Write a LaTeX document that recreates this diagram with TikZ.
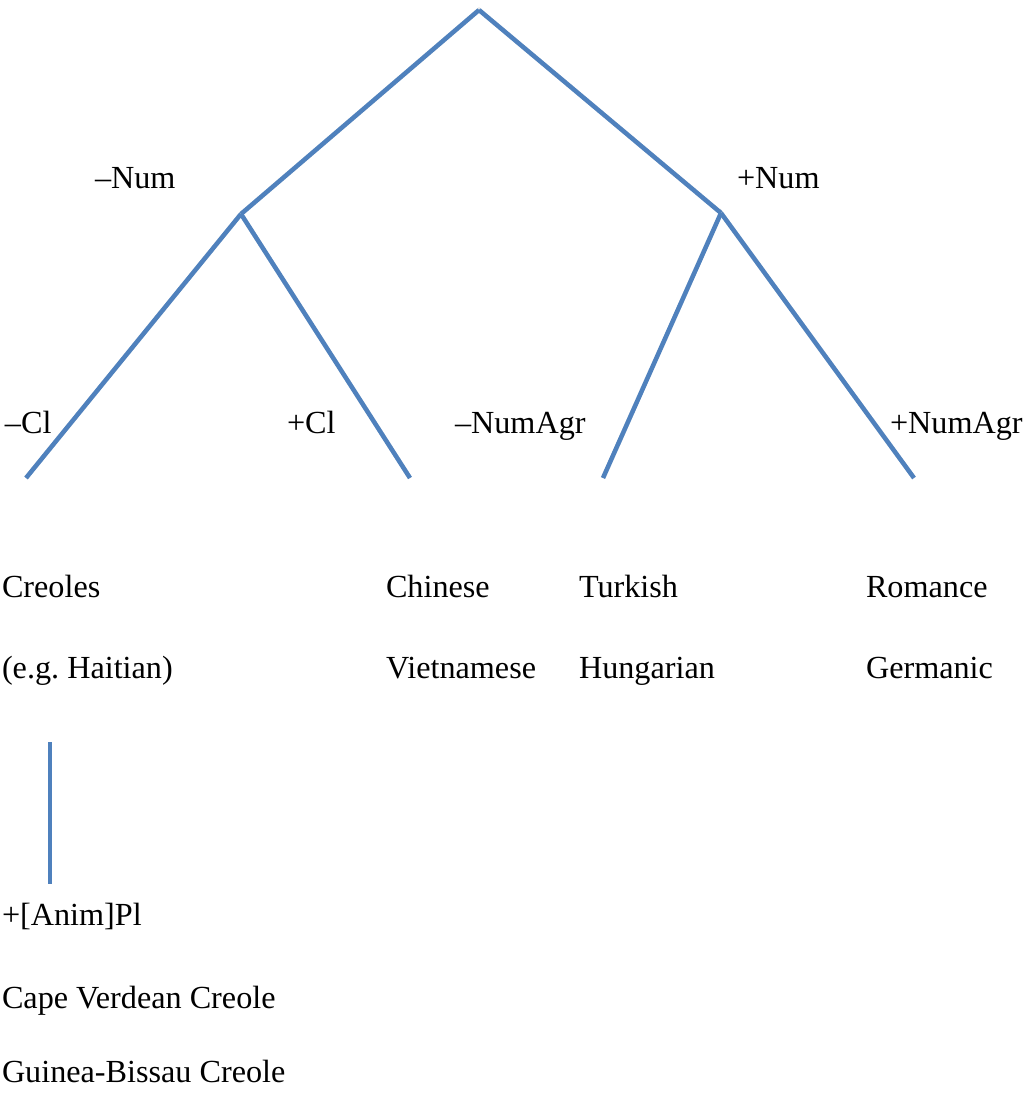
\documentclass[tikz,border=0pt]{standalone}
\usepackage{fontspec}
\setmainfont{Liberation Serif}
\frenchspacing
\definecolor{branch}{HTML}{4F81BD}
\begin{document}
\begin{tikzpicture}[x=1pt,y=-1pt,
  edge/.style={draw=branch,line width=4.5pt},
  shade/.style={draw=black!25,line width=4.5pt,opacity=0.35},
  lbl/.style={anchor=base west,inner sep=0pt,outer sep=0pt,font=\fontsize{32.2}{38}\selectfont}]
\useasboundingbox (0,0) rectangle (1023,1095);
\coordinate (root) at (479,10);
\coordinate (lnum) at (241,214);
\coordinate (rnum) at (721,213);
\coordinate (lcl) at (26,478);
\coordinate (rcl) at (410,478);
\coordinate (lagr) at (603,478);
\coordinate (ragr) at (914,478);
\coordinate (vtop) at (50,742);
\coordinate (vbot) at (50,884);
% soft shadows
\begin{scope}[shift={(1.5,2)}]
\draw[shade] (lnum) -- (root) -- (rnum);
\draw[shade] (lcl) -- (lnum) -- (rcl);
\draw[shade] (lagr) -- (rnum) -- (ragr);
\draw[shade] (vtop) -- (vbot);
\end{scope}
% branches
\draw[edge] (root) -- (lnum);
\draw[edge] (root) -- (rnum);
\draw[edge] (lnum) -- (lcl);
\draw[edge] (lnum) -- (rcl);
\draw[edge] (rnum) -- (lagr);
\draw[edge] (rnum) -- (ragr);
\draw[edge] (vtop) -- (vbot);
% labels
\node[lbl] (mnum) at (95,188) {–Num};
\node[lbl] (pnum) at (737,188) {+Num};
\node[lbl] (mcl) at (5,433) {–Cl};
\node[lbl] (pcl) at (287,433) {+Cl};
\node[lbl] (magr) at (455,433) {–NumAgr};
\node[lbl] (pagr) at (890,433) {+NumAgr};
\node[lbl] (creoles) at (2,597) {Creoles};
\node[lbl] (haitian) at (2,678) {(e.g. Haitian)};
\node[lbl] (chinese) at (386,597) {Chinese};
\node[lbl] (viet) at (386,678) {Vietnamese};
\node[lbl] (turkish) at (579,597) {Turkish};
\node[lbl] (hung) at (579,678) {Hungarian};
\node[lbl] (romance) at (866,597) {Romance};
\node[lbl] (germanic) at (866,678) {Germanic};
\node[lbl] (animpl) at (2,925) {+[Anim]Pl};
\node[lbl] (cape) at (2,1008) {Cape Verdean Creole};
\node[lbl] (guinea) at (2,1082) {Guinea-Bissau Creole};
\end{tikzpicture}
\end{document}
